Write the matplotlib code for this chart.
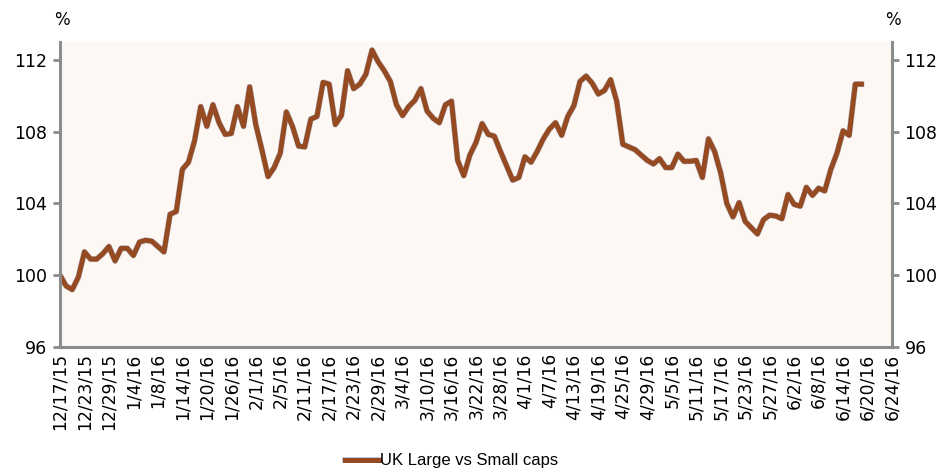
import numpy as np
import matplotlib
matplotlib.use("Agg")
import matplotlib.pyplot as plt
import matplotlib.patheffects as pe

plt.rcParams["font.family"] = ["Liberation Sans", "DejaVu Sans"]

# weekday categories from 12/17/15 to 6/24/16, labelled every 4th day
tick_labels = [
    "12/17/15", "12/23/15", "12/29/15", "1/4/16", "1/8/16", "1/14/16", "1/20/16",
    "1/26/16", "2/1/16", "2/5/16", "2/11/16", "2/17/16", "2/23/16", "2/29/16",
    "3/4/16", "3/10/16", "3/16/16", "3/22/16", "3/28/16", "4/1/16", "4/7/16",
    "4/13/16", "4/19/16", "4/25/16", "4/29/16", "5/5/16", "5/11/16", "5/17/16",
    "5/23/16", "5/27/16", "6/2/16", "6/8/16", "6/14/16", "6/20/16", "6/24/16",
]
n_days = 137

large_vs_small = [
    100.0, 99.4, 99.2, 99.9, 101.3, 100.9, 100.9, 101.2, 101.6, 100.8,
    101.5, 101.5, 101.1, 101.85, 101.95, 101.9, 101.6, 101.3, 103.4, 103.55,
    105.9, 106.3, 107.5, 109.4, 108.3, 109.5, 108.5, 107.85, 107.9, 109.4,
    108.3, 110.5, 108.4, 107.0, 105.5, 106.0, 106.8, 109.1, 108.3, 107.2,
    107.15, 108.7, 108.85, 110.75, 110.65, 108.4, 108.9, 111.4, 110.4, 110.65,
    111.2, 112.55, 111.9, 111.4, 110.8, 109.5, 108.9, 109.4, 109.75, 110.4,
    109.15, 108.75, 108.5, 109.5, 109.7, 106.4, 105.55, 106.7, 107.4, 108.45,
    107.85, 107.75, 106.9, 106.1, 105.3, 105.45, 106.6, 106.3, 106.9, 107.6,
    108.15, 108.5, 107.8, 108.85, 109.45, 110.8, 111.1, 110.7, 110.1, 110.3,
    110.9, 109.7, 107.3, 107.15, 107.0, 106.7, 106.4, 106.2, 106.5, 106.0,
    106.0, 106.75, 106.35, 106.35, 106.4, 105.45, 107.6, 106.9, 105.7, 104.0,
    103.25, 104.05, 103.0, 102.65, 102.3, 103.1, 103.35, 103.3, 103.15, 104.5,
    103.95, 103.85, 104.9, 104.45, 104.85, 104.7, 105.9, 106.8, 108.05, 107.8,
    110.65, 110.65,
]

line_color = "#954A22"
axis_color = "#8C8C8C"

fig = plt.figure(figsize=(9.53, 4.71), dpi=100)
ax = fig.add_axes([60 / 953, 1 - 347 / 471, 832 / 953, 305 / 471])
ax.set_facecolor("#FDF8F4")

x = np.arange(len(large_vs_small))
ax.plot(x, large_vs_small, color=line_color, lw=3.6, solid_joinstyle="round",
        label="UK Large vs Small caps",
        path_effects=[pe.Stroke(linewidth=4.3, foreground="#6f86a8", alpha=0.45), pe.Normal()])

ax.set_xlim(0, n_days - 1)
ax.set_ylim(96, 113)
ax.set_yticks([96, 100, 104, 108, 112])
ax.set_xticks(np.arange(0, n_days, 4))
ax.set_xticklabels(tick_labels, rotation=90, fontsize=12.3, family="DejaVu Sans")

ax.spines["top"].set_visible(False)
for side in ["left", "right", "bottom"]:
    ax.spines[side].set_color(axis_color)
    ax.spines[side].set_linewidth(2.2)

ax.tick_params(axis="y", left=True, right=True, labelleft=True, labelright=True,
               direction="out", length=5, width=2, color=axis_color,
               labelsize=12.5, labelfontfamily="DejaVu Sans", pad=4)
ax.tick_params(axis="x", length=0, pad=4.5)

fig.text(62 / 953, 1 - 20 / 471, "%", fontsize=12, ha="center", va="center",
         family="DejaVu Sans")
fig.text(893 / 953, 1 - 20 / 471, "%", fontsize=12, ha="center", va="center",
         family="DejaVu Sans")

fig.legend(loc="center", bbox_to_anchor=(452 / 953, 1 - 461 / 471), frameon=False,
           prop={"family": "Liberation Sans", "size": 12},
           handlelength=2.0, handletextpad=0.1)

fig.savefig("out.png", dpi=100)
